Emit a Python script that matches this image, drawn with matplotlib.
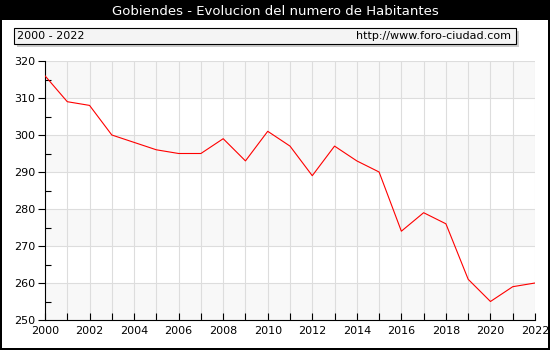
import numpy as np
import matplotlib.pyplot as plt
from matplotlib.patches import Rectangle

years = list(range(2000, 2023))
habitantes = [316, 309, 308, 300, 298, 296, 295, 295, 299, 293, 301, 297,
              289, 297, 293, 290, 274, 279, 276, 261, 255, 259, 260]
y_ticks = [250, 260, 270, 280, 290, 300, 310, 320]
x_ticks = list(range(2000, 2023, 2))

titulo = "Gobiendes - Evolucion del numero de Habitantes"
periodo = "2000 - 2022"
web = "http://www.foro-ciudad.com"

plt.rcParams['font.family'] = ['DejaVu Sans']

fig = plt.figure(figsize=(5.5, 3.5), dpi=100)
fig.patch.set_facecolor('black')

# panel blanco
fig.patches.append(Rectangle((2 / 550, 2 / 350), 546 / 550, 328 / 350,
                             transform=fig.transFigure, facecolor='white',
                             edgecolor='none', zorder=-5))
fig.text(0.5, 0.967, titulo, color='white', ha='center', va='center', fontsize=9.5)

# caja de cabecera con sombra
fig.patches.append(Rectangle((17 / 550, (350 - 47) / 350), 502 / 550, 16 / 350,
                             transform=fig.transFigure, facecolor='#cccccc',
                             edgecolor='none', zorder=1))
fig.patches.append(Rectangle((14 / 550, (350 - 44) / 350), 502 / 550, 16 / 350,
                             transform=fig.transFigure, facecolor='#f4f4f4',
                             edgecolor='black', linewidth=0.8, zorder=2))
fig.text(17 / 550, (350 - 36) / 350, periodo, fontsize=8, va='center', zorder=3)
fig.text(511 / 550, (350 - 36) / 350, web, fontsize=8, va='center', ha='right', zorder=3)

ax = fig.add_axes([45 / 550, 30 / 350, 490 / 550, 259 / 350])
ax.set_zorder(5)
ax.set_facecolor('white')
for lo in range(250, 320, 20):
    ax.axhspan(lo, lo + 10, color='#f8f8f8', zorder=0, lw=0)

ax.plot(years, habitantes, color='red', lw=0.8, zorder=3)

ax.set_xlim(2000, 2022)
ax.set_ylim(250, 320)
ax.set_xticks(x_ticks)
ax.set_xticks(years, minor=True)
ax.set_yticks(y_ticks)
ax.set_yticks(np.arange(255, 320, 10), minor=True)
ax.grid(True, which='major', axis='y', color='#dddddd', lw=0.8, zorder=1)
ax.grid(True, which='both', axis='x', color='#dddddd', lw=0.8, zorder=1)
ax.set_axisbelow(True)

for s in ['top', 'right']:
    ax.spines[s].set_visible(False)
ax.spines['left'].set_linewidth(0.8)
ax.spines['bottom'].set_linewidth(0.8)

ax.tick_params(axis='x', which='both', direction='in', length=5, width=0.8, labelsize=8, pad=4)
ax.tick_params(axis='y', which='major', direction='out', length=5, width=0.8, labelsize=8, pad=2)
ax.tick_params(axis='y', which='minor', direction='in', length=4, width=0.8)

fig.savefig('out.png', dpi=100, facecolor=fig.get_facecolor())
